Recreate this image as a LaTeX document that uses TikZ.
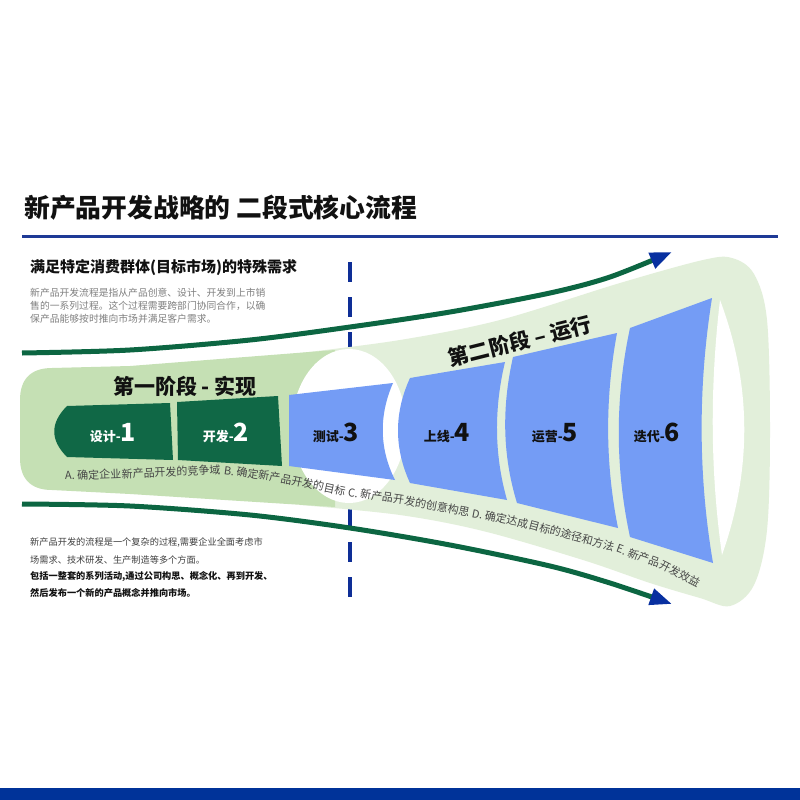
\documentclass[tikz,border=0pt]{standalone}
\usepackage{fontspec}
\setmainfont{Noto Sans CJK SC}
\usetikzlibrary{arrows.meta}
\definecolor{titleblack}{RGB}{17,17,17}
\definecolor{lineblue}{RGB}{30,58,150}
\definecolor{barblue}{RGB}{0,51,153}
\definecolor{dashblue}{RGB}{14,46,150}
\definecolor{arcgreen}{RGB}{12,102,66}
\definecolor{arrowblue}{RGB}{8,48,160}
\definecolor{stageone}{RGB}{197,224,180}
\definecolor{stagetwo}{RGB}{226,239,218}
\definecolor{seggreen}{RGB}{16,104,70}
\definecolor{segblue}{RGB}{116,156,245}
\definecolor{paragray}{RGB}{128,128,128}
\definecolor{darktext}{RGB}{64,64,64}
\definecolor{rimtext}{RGB}{70,70,70}
\newcommand\seglab[2]{{\fontsize{13}{13}\selectfont\bfseries #1-}{\fontsize{25}{25}\selectfont\bfseries #2}}
\tikzset{
  txt/.style={anchor=west,inner sep=0pt},
  seglabel/.style={anchor=base,inner sep=0pt},
  rimlabel/.style={inner sep=0pt,anchor=base west,text=rimtext,font=\fontsize{11}{11}\selectfont},
  flowarc/.style={arcgreen,line width=5pt,-{Triangle[length=22pt,width=16pt,color=arrowblue]}},
}
\begin{document}
\begin{tikzpicture}[x=1pt,y=-1pt]
\useasboundingbox (0,0) rectangle (800,800);
\fill[white] (0,0) rectangle (800,800);

% title and rules
\node[txt,font=\fontsize{25.8}{26}\selectfont\bfseries,text=titleblack] (title) at (24,208) {新产品开发战略的 二段式核心流程};
\draw[lineblue,line width=3pt] (22,236) -- (778,236);
\fill[barblue] (0,788) rectangle (800,800);

% dashed divider
\draw[dashblue,line width=4pt,dash pattern=on 20pt off 15pt] (350,262) -- (350,597);

% stage 2 outer shape
\fill[stagetwo] plot[smooth,tension=0.55] coordinates {(300,353) (400,340) (500,320) (620,283) (703,260) (732,258) (754,274) (767,320) (770,430) (767,530) (754,585) (730,606) (700,598) (650,583) (583,560) (483,531) (400,515) (300,505)} -- cycle;

% stage 1 shape
\fill[stageone] (335,350) -- (130,366) -- (52,368) .. controls (30,368) and (20,380) .. (20,400) -- (20,458) .. controls (20,478) and (30,490) .. (52,490) -- (130,494) -- (335,507) -- cycle;

% white circle
\fill[white] (349,426) ellipse [x radius=57, y radius=77];

% green segments
\fill[seggreen] (67,406) -- (170,403) -- (173,460) -- (67,457) .. controls (50,440) and (50,423) .. (67,406) -- cycle;
\fill[seggreen] (177,402) -- (278,396) -- (282,466) -- (178,460) -- cycle;

% blue segments
\fill[segblue] (289,395) -- (393,383) .. controls (379,415) and (379,448) .. (395,480) -- (289,466) -- cycle;
\fill[segblue] (410,378) -- (505,362) .. controls (494,408) and (494,454) .. (507,500) -- (410,483) .. controls (394,448) and (394,413) .. (410,378) -- cycle;
\fill[segblue] (513,357) -- (617,333) .. controls (605,398) and (605,463) .. (618,528) -- (517,503) .. controls (502,454) and (502,406) .. (513,357) -- cycle;
\fill[segblue] (630,328) -- (712,298) .. controls (698,386) and (698,475) .. (713,563) -- (630,537) .. controls (615,467) and (615,398) .. (630,328) -- cycle;

% lens at the open end
\fill[white] (720,300) .. controls (752,385) and (752,470) .. (722,555) .. controls (710,470) and (710,385) .. (720,300) -- cycle;

% segment labels
\node[seglabel,text=white] (l1) at (113,441) {\seglab{设计}{1}};
\node[seglabel,text=white] (l2) at (226,441) {\seglab{开发}{2}};
\node[seglabel,text=titleblack] (l3) at (336,441) {\seglab{测试}{3}};
\node[seglabel,text=titleblack] (l4) at (447,441) {\seglab{上线}{4}};
\node[seglabel,text=titleblack] (l5) at (555,441) {\seglab{运营}{5}};
\node[seglabel,text=titleblack] (l6) at (657,441) {\seglab{迭代}{6}};

% stage titles
\node[inner sep=0pt,font=\fontsize{21}{21}\selectfont\bfseries,text=titleblack] (s1) at (185,386) {第一阶段 - 实现};
\node[inner sep=0pt,rotate=14,font=\fontsize{21}{21}\selectfont\bfseries,text=titleblack] (s2) at (520,341) {第二阶段 – 运行};

% arcs
\draw[flowarc] plot[smooth] coordinates {(22,353) (130,350) (250,340) (350,327) (450,312) (550,293) (610,277) (672,252)};
\draw[flowarc] plot[smooth] coordinates {(22,504) (130,506) (250,515) (350,528) (450,545) (550,566) (610,583) (672,604)};

% rim text, chained along the lower rim
\node[rimlabel,rotate=2] (r1) at (65,480) {A. 确定企业};
\node[rimlabel,rotate=2.5] (r2) at (r1.base east) {新产品开发的竞争域};
\node[rimlabel,rotate=-8] (r3) at (r2.base east) {\ B. 确定新产};
\node[rimlabel,rotate=-12] (r4) at (r3.base east) {品开发的目标};
\node[rimlabel,rotate=-8] (r5) at (r4.base east) {\ C. 新产品开};
\node[rimlabel,rotate=-11] (r6) at (r5.base east) {发的创意构思};
\node[rimlabel,rotate=-11] (r7) at (r6.base east) {\ D. 确定达成};
\node[rimlabel,rotate=-15] (r8) at (r7.base east) {目标的途径和方法};
\node[rimlabel,rotate=-20] (r9) at (r8.base east) {\ E. 新产品};
\node[rimlabel,rotate=-27] (r10) at (r9.base east) {开发效益};

% top-left text
\node[txt,font=\fontsize{15}{15}\selectfont\bfseries,text=titleblack] (sub) at (30,268) {满足特定消费群体(目标市场)的特殊需求};
\node[txt,font=\fontsize{9.8}{10}\selectfont,text=paragray] (p1) at (30,293) {新产品开发流程是指从产品创意、设计、开发到上市销};
\node[txt,font=\fontsize{9.8}{10}\selectfont,text=paragray] (p2) at (30,306) {售的一系列过程。这个过程需要跨部门协同合作，以确};
\node[txt,font=\fontsize{9.8}{10}\selectfont,text=paragray] (p3) at (30,319) {保产品能够按时推向市场并满足客户需求。};

% bottom-left text
\node[txt,font=\fontsize{9.2}{10}\selectfont,text=darktext] (q1) at (30,542) {新产品开发的流程是一个复杂的过程,需要企业全面考虑市};
\node[txt,font=\fontsize{9.2}{10}\selectfont,text=darktext] (q2) at (30,560) {场需求、技术研发、生产制造等多个方面。};
\node[txt,font=\fontsize{9.2}{10}\selectfont\bfseries,text=titleblack] (q3) at (30,577) {包括一整套的系列活动,通过公司构思、概念化、再到开发、};
\node[txt,font=\fontsize{9.2}{10}\selectfont\bfseries,text=titleblack] (q4) at (30,593) {然后发布一个新的产品概念并推向市场。};
\end{tikzpicture}
\end{document}
